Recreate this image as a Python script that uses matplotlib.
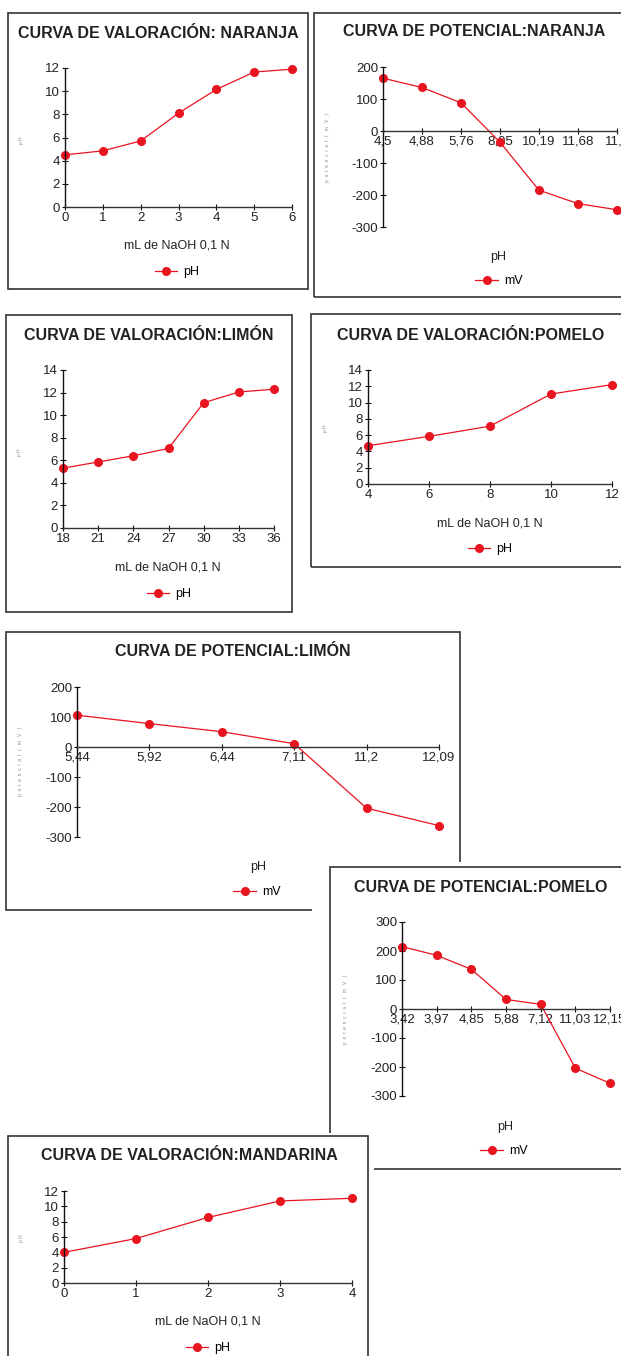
import matplotlib
matplotlib.use('Agg')
from matplotlib import pyplot as plt
from matplotlib.patches import Rectangle

plt.rcParams['font.family'] = ['Liberation Sans', 'DejaVu Sans']
plt.rcParams['axes.unicode_minus'] = False

W, H = 621, 1356
RED = '#e8141f'
EDGE = '#333333'

# --- data ---
naranja_ml = [0, 1, 2, 3, 4, 5, 6]
naranja_ph = [4.5, 4.85, 5.7, 8.1, 10.15, 11.65, 11.9]

naranja_pot_ph = ['4,5', '4,88', '5,76', '8,05', '10,19', '11,68', '11,9']
naranja_pot_mv = [165, 136, 88, -35, -185, -227, -246]

limon_ml = [18, 21, 24, 27, 30, 33, 36]
limon_ph = [5.3, 5.85, 6.4, 7.05, 11.1, 12.05, 12.3]

pomelo_ml = [4, 6, 8, 10, 12]
pomelo_ph = [4.7, 5.85, 7.1, 11.05, 12.2]

limon_pot_ph = ['5,44', '5,92', '6,44', '7,11', '11,2', '12,09']
limon_pot_mv = [106, 78, 51, 11, -204, -262]

pomelo_pot_ph = ['3,42', '3,97', '4,85', '5,88', '7,12', '11,03', '12,15']
pomelo_pot_mv = [215, 185, 137, 33, 16, -204, -256]

mandarina_ml = [0, 1, 2, 3, 4]
mandarina_ph = [4.0, 5.8, 8.55, 10.7, 11.05]

fig = plt.figure(figsize=(W / 100, H / 100), dpi=100)
fig.patch.set_facecolor('white')


def fx(x):
    return x / W


def fy(y):
    return 1 - y / H


def box(z, x0, y0, x1, y1, bg=None):
    # white background (may be larger than the frame) and the frame itself
    if bg is None:
        bg = (x0, y0, x1, y1)
    fig.add_artist(Rectangle((fx(bg[0]), fy(bg[3])), (bg[2] - bg[0]) / W, (bg[3] - bg[1]) / H,
                             transform=fig.transFigure, facecolor='white', edgecolor='none', zorder=z))
    fig.add_artist(Rectangle((fx(x0), fy(y1)), (x1 - x0) / W, (y1 - y0) / H,
                             transform=fig.transFigure, facecolor='none', edgecolor=EDGE,
                             linewidth=1.2, zorder=z + 0.5))


def make_ax(z, x0, x1, ytop, ybot):
    ax = fig.add_axes([fx(x0), fy(ybot), (x1 - x0) / W, (ybot - ytop) / H])
    ax.set_zorder(z + 1)
    ax.patch.set_visible(False)
    ax.spines['top'].set_visible(False)
    ax.spines['right'].set_visible(False)
    ax.spines['left'].set_color('#111111')
    ax.spines['bottom'].set_color('#333333')
    ax.spines['left'].set_linewidth(1.0)
    ax.spines['bottom'].set_linewidth(1.0)
    ax.tick_params(direction='inout', length=5, width=0.8, labelsize=9.5, pad=1,
                   colors='#111111', labelcolor='#222222')
    return ax


def texts(z, title, tx, ty, xlabel, lx, ly, ylabel, yx, yy):
    fig.text(fx(tx), fy(ty), title, ha='center', va='center', fontsize=11.5,
             fontweight='bold', color='#222222', zorder=z + 2)
    fig.text(fx(lx), fy(ly), xlabel, ha='center', va='center', fontsize=9,
             color='#222222', zorder=z + 2)
    fig.text(fx(yx), fy(yy), ylabel, ha='center', va='center', fontsize=3.5,
             rotation=90, color='#888888', zorder=z + 2)


def legend(ax, label, cx, cy):
    ax.legend([label], loc='center', bbox_to_anchor=(fx(cx), fy(cy)),
              bbox_transform=fig.transFigure, frameon=False, fontsize=9,
              handlelength=1.8, handletextpad=0.5, numpoints=1, borderpad=0)


def valoracion(z, xs, ys, ymax, rect, title, tpos, lpos, legpos, ypos):
    ax = make_ax(z, *rect)
    ax.plot(xs, ys, '-o', color=RED, lw=0.9, ms=5.5, clip_on=False)
    ax.set_xlim(xs[0], xs[-1])
    ax.set_ylim(0, ymax)
    ax.set_yticks(range(0, ymax + 1, 2))
    ax.set_xticks(xs)
    texts(z, title, tpos[0], tpos[1], 'mL de NaOH 0,1 N', lpos[0], lpos[1], 'p H', ypos[0], ypos[1])
    legend(ax, 'pH', legpos[0], legpos[1])
    return ax


def potencial(z, labels, mv, ylim, rect, title, tpos, lpos, legpos, ypos):
    ax = make_ax(z, *rect)
    xs = list(range(len(labels)))
    ax.plot(xs, mv, '-o', color=RED, lw=0.9, ms=5.5, clip_on=False)
    ax.spines['bottom'].set_position(('data', 0))
    ax.set_xlim(0, len(labels) - 1)
    ax.set_ylim(*ylim)
    ax.set_yticks(range(ylim[0], ylim[1] + 1, 100))
    ax.set_xticks(xs)
    ax.set_xticklabels(labels)
    texts(z, title, tpos[0], tpos[1], 'pH', lpos[0], lpos[1],
          'p  o  t  e  n  c  i  a  l   (   m   V   )', ypos[0], ypos[1])
    legend(ax, 'mV', legpos[0], legpos[1])
    return ax


# panel 1
box(10, 8, 13, 308, 289)
valoracion(10, naranja_ml, naranja_ph, 12, (65, 292, 68, 207),
           'CURVA DE VALORACIÓN: NARANJA', (158, 33), (177, 245), (177, 272), (22, 140))

# panel 2
box(20, 314, 13, 660, 297)
potencial(20, naranja_pot_ph, naranja_pot_mv, (-300, 200), (383, 617, 67, 227),
          'CURVA DE POTENCIAL:NARANJA', (474, 32), (498, 257), (499, 281), (328, 148))

# panel 3
box(30, 6, 315, 292, 612)
valoracion(30, limon_ml, limon_ph, 14, (63, 274, 370, 528),
           'CURVA DE VALORACIÓN:LIMÓN', (149, 335), (168, 568), (169, 594), (20, 452))

# panel 4
box(40, 311, 314, 660, 567)
valoracion(40, pomelo_ml, pomelo_ph, 14, (368, 612, 370, 484),
           'CURVA DE VALORACIÓN:POMELO', (471, 335), (490, 523), (490, 549), (325, 428))

# panel 5
box(50, 6, 632, 460, 910)
potencial(50, limon_pot_ph, limon_pot_mv, (-300, 200), (77, 439, 687, 837),
          'CURVA DE POTENCIAL:LIMÓN', (233, 652), (258, 867), (257, 892), (21, 762))

# panel 6
box(60, 330, 867, 660, 1169, bg=(312, 862, 660, 1172))
potencial(60, pomelo_pot_ph, pomelo_pot_mv, (-300, 300), (402, 610, 922, 1096),
          'CURVA DE POTENCIAL:POMELO', (481, 887), (505, 1127), (504, 1151), (346, 1010))

# panel 7
box(70, 8, 1136, 368, 1400, bg=(0, 1133, 374, 1400))
valoracion(70, mandarina_ml, mandarina_ph, 12, (64, 352, 1191, 1283),
           'CURVA DE VALORACIÓN:MANDARINA', (189, 1156), (208, 1322), (208, 1348), (21, 1238))

fig.savefig('out.png', dpi=100)
